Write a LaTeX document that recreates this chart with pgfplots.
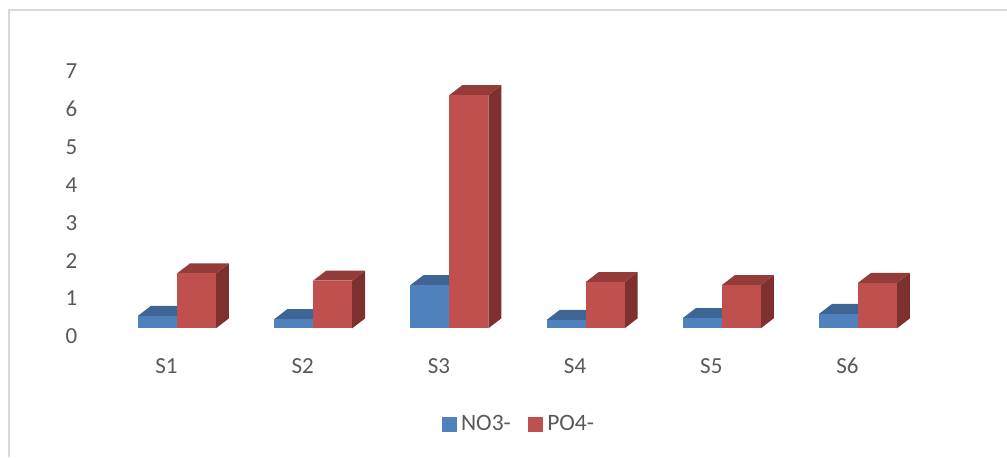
\documentclass[border=0pt]{standalone}
\usepackage{fontspec}
\setmainfont{Carlito}
\usepackage{pgfplots}
\pgfplotsset{compat=1.18}

\definecolor{blueFront}{HTML}{4F81BD}
\definecolor{blueTop}{HTML}{3F6595}
\definecolor{blueSide}{HTML}{35557D}
\definecolor{redFront}{HTML}{C0504D}
\definecolor{redTop}{HTML}{943C3A}
\definecolor{redSide}{HTML}{7D302E}
\definecolor{textGrey}{HTML}{595959}
\definecolor{frameGrey}{HTML}{D9D9D9}

% Bar width and the depth offset of the extruded faces, in axis units
\newcommand{\barw}{0.2863}
\newcommand{\depthx}{0.0954}
\newcommand{\depthy}{0.264}

% #1 left edge, #2 value, #3 front colour, #4 top colour, #5 side colour
\newcommand{\solidbar}[5]{%
  \pgfmathsetmacro\xa{#1}%
  \pgfmathsetmacro\xb{#1+\barw}%
  \pgfmathsetmacro\xc{#1+\barw+\depthx}%
  \pgfmathsetmacro\xd{#1+\depthx}%
  \pgfmathsetmacro\yt{#2+\depthy}%
  \addplot[forget plot, draw=none, fill=#5] coordinates {(\xb,0) (\xc,\depthy) (\xc,\yt) (\xb,#2)} --cycle;
  \addplot[forget plot, draw=none, fill=#4] coordinates {(\xa,#2) (\xb,#2) (\xc,\yt) (\xd,\yt)} --cycle;
  \addplot[forget plot, draw=none, fill=#3] coordinates {(\xa,0) (\xb,0) (\xb,#2) (\xa,#2)} --cycle;
}
% #1 category position, #2 NO3- value, #3 PO4- value
\newcommand{\station}[3]{%
  \pgfmathsetmacro\leftedge{#1-\barw}%
  \solidbar{\leftedge}{#2}{blueFront}{blueTop}{blueSide}%
  \solidbar{#1}{#3}{redFront}{redTop}{redSide}%
}

\begin{document}
\begin{tikzpicture}
\begin{axis}[
  scale only axis,
  width=1007pt, height=457pt,
  xmin=-1.2996, xmax=6.094,
  ymin=-3.399, ymax=8.671,
  axis line style={draw=none},
  tick style={draw=none},
  major tick length=0pt,
  no markers,
  xtick={0,1,2,3,4,5},
  xticklabels={S1,S2,S3,S4,S5,S6},
  ytick={0,1,2,3,4,5,6,7},
  tick label style={font=\fontsize{23}{27}\selectfont, text=textGrey},
  xticklabel style={anchor=center, xshift=-10.5pt, yshift=91pt},
  yticklabel style={anchor=center, xshift=71.5pt, yshift=-8pt},
  /pgf/number format/assume math mode=true,
  legend style={
    at={(axis cs:2.51,-2.53)}, anchor=center,
    draw=none, fill=none,
    legend columns=2,
    font=\fontsize{23.5}{27}\selectfont,
    text=textGrey,
    /tikz/every odd column/.style={column sep=3pt},
    /tikz/every even column/.style={column sep=15pt},
    inner sep=0pt,
  },
  legend image code/.code={
    \fill[#1] (0pt,-7pt) rectangle (14pt,7pt);
  },
]
\station{0}{0.33}{1.45}
\station{1}{0.24}{1.26}
\station{2}{1.14}{6.16}
\station{3}{0.22}{1.22}
\station{4}{0.27}{1.14}
\station{5}{0.38}{1.20}

\addlegendimage{blueFront, fill=blueFront}
\addlegendentry{NO3-}
\addlegendimage{redFront, fill=redFront}
\addlegendentry{PO4-}

% Frame rules along the top and left edges
\draw[frameGrey, line width=2pt] (rel axis cs:0.0087,0) -- (rel axis cs:0.0087,0.979) -- (rel axis cs:1,0.979);
\end{axis}
\end{tikzpicture}
\end{document}
